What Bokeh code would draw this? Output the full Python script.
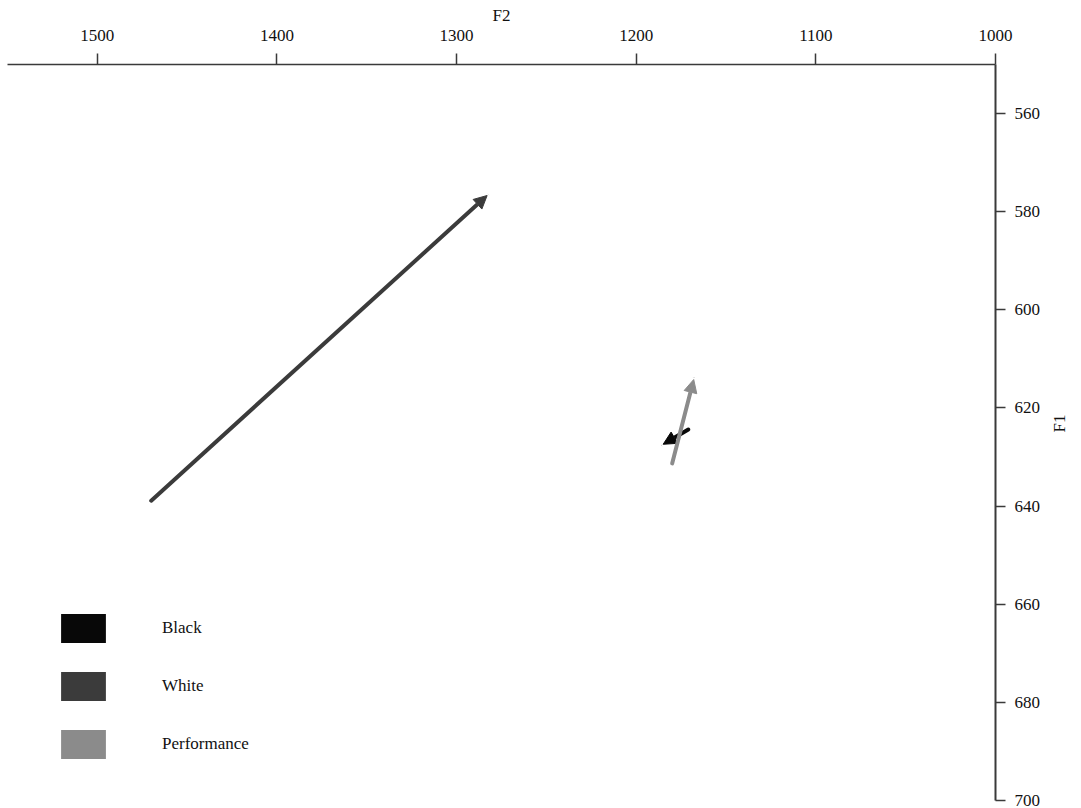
import math

from bokeh.embed import file_html
from bokeh.models import (Arrow, ColumnDataSource, FixedTicker, Legend,
                          LegendItem, NormalHead, Range1d)
from bokeh.plotting import figure
from bokeh.resources import INLINE

# Formant trajectories (F2 horizontal, F1 vertical, both reversed)
series = ["Black", "White", "Performance"]
colors = ["#080808", "#3b3b3b", "#8b8b8b"]
f2_start = [1171, 1470, 1180]
f1_start = [624.4, 638.9, 631.3]
f2_end = [1185, 1283, 1168]
f1_end = [627.4, 576.7, 614.2]

f2_ticks = [1500, 1400, 1300, 1200, 1100, 1000]
f1_ticks = [560, 580, 600, 620, 640, 660, 680, 700]

SERIF = "Liberation Serif"
AXIS_COLOR = "#3a3a3a"
FONT_SIZE = "17px"

p = figure(width=1081, height=808, output_backend="svg", toolbar_location=None,
           x_range=Range1d(1550, 1000), y_range=Range1d(700, 550),
           x_axis_location="above", y_axis_location="right",
           min_border_left=7, min_border_right=86, min_border_top=64,
           min_border_bottom=8)
p.outline_line_color = None
p.grid.visible = False
p.background_fill_color = "white"

# top F2 axis
xa = p.xaxis[0]
xa.ticker = FixedTicker(ticks=f2_ticks)
xa.axis_label = "F2"
xa.axis_label_text_font = SERIF
xa.axis_label_text_font_style = "normal"
xa.axis_label_text_font_size = FONT_SIZE
xa.axis_label_text_color = "#111111"
xa.axis_label_standoff = 2
xa.major_label_text_font = SERIF
xa.major_label_text_font_size = FONT_SIZE
xa.major_label_text_color = "#111111"
xa.major_label_standoff = 13
xa.major_tick_in = 0
xa.major_tick_out = 11
xa.minor_tick_out = 0
xa.minor_tick_in = 0
xa.axis_line_color = AXIS_COLOR
xa.axis_line_width = 1.5
xa.major_tick_line_color = AXIS_COLOR
xa.major_tick_line_width = 1.5

# right F1 axis
ya = p.yaxis[0]
ya.ticker = FixedTicker(ticks=f1_ticks)
ya.axis_label = "F1"
ya.axis_label_text_font = SERIF
ya.axis_label_text_font_style = "normal"
ya.axis_label_text_font_size = FONT_SIZE
ya.axis_label_text_color = "#111111"
ya.axis_label_standoff = 16
if "axis_label_orientation" in ya.properties():
    # read bottom to top
    ya.axis_label_orientation = math.pi / 2
ya.major_label_text_font = SERIF
ya.major_label_text_font_size = FONT_SIZE
ya.major_label_text_color = "#111111"
ya.major_label_standoff = 9
ya.major_tick_in = 0
ya.major_tick_out = 10
ya.minor_tick_out = 0
ya.minor_tick_in = 0
ya.axis_line_color = AXIS_COLOR
ya.axis_line_width = 2
ya.major_tick_line_color = AXIS_COLOR
ya.major_tick_line_width = 1.5

# trajectory arrows
for i, name in enumerate(series):
    src = ColumnDataSource(dict(x0=[f2_start[i]], y0=[f1_start[i]],
                                x1=[f2_end[i]], y1=[f1_end[i]]))
    head = NormalHead(size=13, fill_color=colors[i], line_color=colors[i],
                      line_width=1)
    p.add_layout(Arrow(end=head, x_start="x0", y_start="y0", x_end="x1",
                       y_end="y1", source=src, line_color=colors[i],
                       line_width=4, line_cap="round"))

# legend swatches (glyphs carry no visible geometry)
items = []
for i, name in enumerate(series):
    r = p.quad(left=[math.nan], right=[math.nan], top=[math.nan],
               bottom=[math.nan], fill_color=colors[i], line_color=None)
    items.append(LegendItem(label=name, renderers=[r]))

legend = Legend(items=items, location=(48, 38), orientation="vertical",
                glyph_width=56, glyph_height=36, spacing=22,
                label_standoff=51, label_text_font=SERIF,
                label_text_font_size=FONT_SIZE, label_text_color="#111111",
                padding=0, margin=0, border_line_color=None,
                background_fill_alpha=0)
p.add_layout(legend)

open("out.html", "w").write(file_html(p, INLINE))
